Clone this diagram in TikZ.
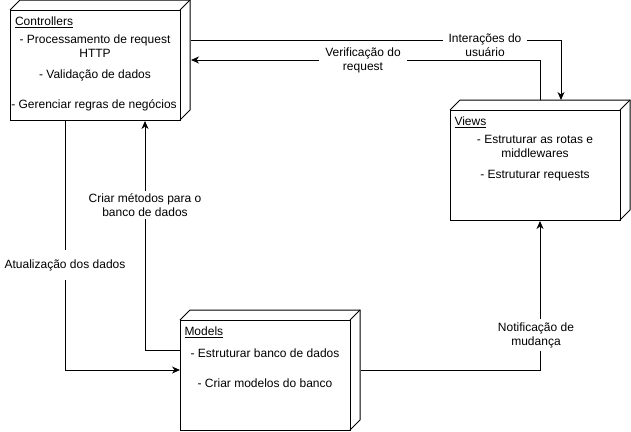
\documentclass[tikz,border=0pt]{standalone}
\usepackage{fontspec}
\setmainfont{Liberation Sans}
\usetikzlibrary{arrows.meta,calc}
\begin{document}
\begin{tikzpicture}[x=1pt,y=-1pt,line width=1pt,
  every node/.style={font=\fontsize{12}{14}\selectfont},
  arr/.style={-{Stealth[length=8pt,width=7pt,inset=2.5pt]}},
  lbl/.style={fill=white,align=center,inner xsep=6pt,inner ysep=3pt},
  txt/.style={inner sep=0pt,anchor=base},
  ltxt/.style={inner sep=0pt,anchor=base west},
  bnd/.style={inner sep=0pt,minimum width=180pt,minimum height=120pt,anchor=north west},
  cube/.pic={\draw (0,10) rectangle (170,120);
             \draw (0,10) -- (10,0) -- (180,0) -- (180,110) -- (170,120);
             \draw (170,10) -- (180,0);}]
\useasboundingbox (0,0) rectangle (631,431);

% boxes
\pic at (10,0) {cube};
\node[bnd] (ctrl) at (10,0) {};
\pic at (450,100) {cube};
\node[bnd] (views) at (450,100) {};
\pic at (180,310) {cube};
\node[bnd] (models) at (180,310) {};

% Controllers text
\node[ltxt] (ct0) at (14.5,25.7) {\underline{Controllers}};
\node[txt] (ct1) at (95,43.3) {- Processamento de request};
\node[txt] (ct2) at (95,57.3) {HTTP};
\node[txt] (ct3) at (95,78.3) {- Validação de dados};
\node[txt] (ct4) at (94,108.7) {- Gerenciar regras de negócios};

% Views text
\node[ltxt] (vt0) at (454,125.7) {\underline{Views}};
\node[txt] (vt1) at (535,143.3) {- Estruturar as rotas e};
\node[txt] (vt2) at (535,157) {middlewares};
\node[txt] (vt3) at (535,178.3) {- Estruturar requests};

% Models text
\node[ltxt] (mt0) at (184,335.7) {\underline{Models}};
\node[txt] (mt1) at (265,357) {- Estruturar banco de dados};
\node[txt] (mt2) at (265,387) {- Criar modelos do banco};

% connectors
\draw[arr] (ctrl.east |- 0,40) -| (views.north -| 561,0);
\draw[arr] (views.north -| 540,0) |- (ctrl.east |- 0,60);
\draw[arr] (ctrl.south -| 65,0) |- (models.west |- 0,370);
\draw[arr] (models.west |- 0,350) -| (ctrl.south -| 145,0);
\draw[arr] (models.east |- 0,370) -| (views.south -| 540,0);

% labels
\node[lbl] (l1) at (485,45.5) {Interações do\\usuário};
\node[lbl] (l2) at (363,60) {Verificação do\\request};
\node[lbl,inner ysep=9pt] (l3) at (65,265) {Atualização dos dados};
\node[lbl] (l4) at (145,205) {Criar métodos para o\\banco de dados};
\node[lbl] (l5) at (536,335) {Notificação de\\mudança};
\end{tikzpicture}
\end{document}
